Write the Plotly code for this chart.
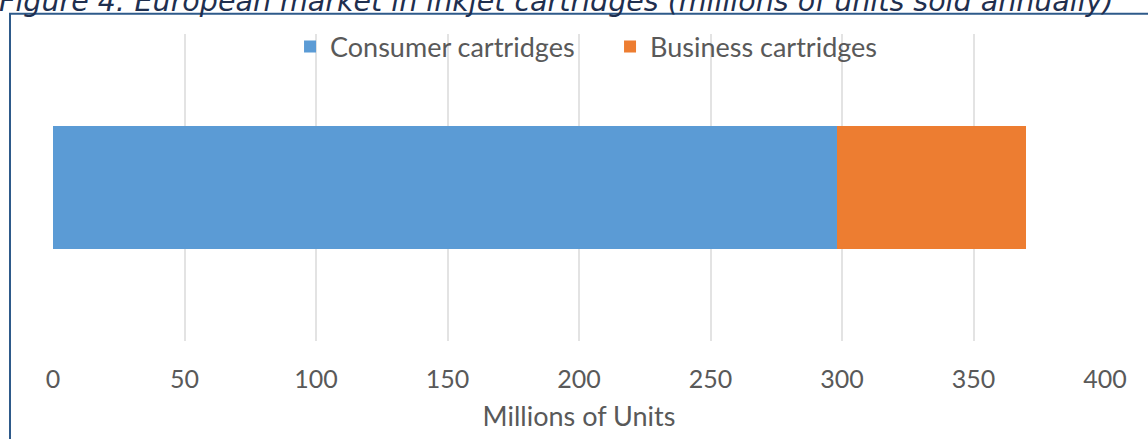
import plotly.graph_objects as go

# data
category = ["Inkjet cartridges"]
series_names = ["Consumer cartridges", "Business cartridges"]
consumer = [298]
business = [72]
colors = ["#5B9BD5", "#ED7D31"]

W, H = 1148, 439
L, R, T, B = 53, 43, 34, 96
pw, ph = W - L - R, H - T - B

def px_x(p):
    return (p - L) / pw

def px_y(p):
    return (H - B - p) / ph

fig = go.Figure()
for name, vals, c in zip(series_names, [consumer, business], colors):
    fig.add_trace(go.Bar(x=vals, y=category, name=name, orientation="h",
                         marker=dict(color=c, line=dict(width=0))))

font = "Lato, 'Open Sans', sans-serif"
fig.update_layout(
    width=W, height=H,
    margin=dict(l=L, r=R, t=T, b=B),
    barmode="stack", bargap=0.6,
    paper_bgcolor="white", plot_bgcolor="white",
    font=dict(family=font, color="#595959", size=25),
    legend=dict(orientation="h", x=0.5295, xanchor="center", y=px_y(47), yanchor="middle",
                bgcolor="rgba(0,0,0,0)", font=dict(size=27, color="#595959"),
                traceorder="normal", entrywidth=275),
    xaxis=dict(range=[0, 400], dtick=50, showgrid=True, gridcolor="#E3E3E3", gridwidth=2,
               zeroline=False, showline=False, ticks="", ticklabelstandoff=21,
               tickfont=dict(size=25, color="#595959"),
               title=dict(text="Millions of Units", standoff=15, font=dict(size=27, color="#595959"))),
    yaxis=dict(showticklabels=False, showgrid=False, zeroline=False, showline=False),
)

# frame lines and cut-off caption above the chart
fig.add_shape(type="line", xref="paper", yref="paper", x0=px_x(9), x1=px_x(W + 5),
              y0=px_y(13.5), y1=px_y(13.5), line=dict(color="#2E5A8A", width=2))
fig.add_shape(type="line", xref="paper", yref="paper", x0=px_x(10), x1=px_x(10),
              y0=px_y(13), y1=px_y(H + 5), line=dict(color="#2E5A8A", width=2))
fig.add_annotation(text="Figure 4: European market in inkjet cartridges (millions of units sold annually)",
                   xref="paper", yref="paper", x=px_x(-3), y=px_y(20), xanchor="left", yanchor="bottom",
                   showarrow=False,
                   font=dict(family="DejaVu Sans", size=28.5, color="#1F2F4F", style="italic"))

fig.write_html("out.html", config={"displayModeBar": False},
               post_script="document.body.style.margin='0';")
